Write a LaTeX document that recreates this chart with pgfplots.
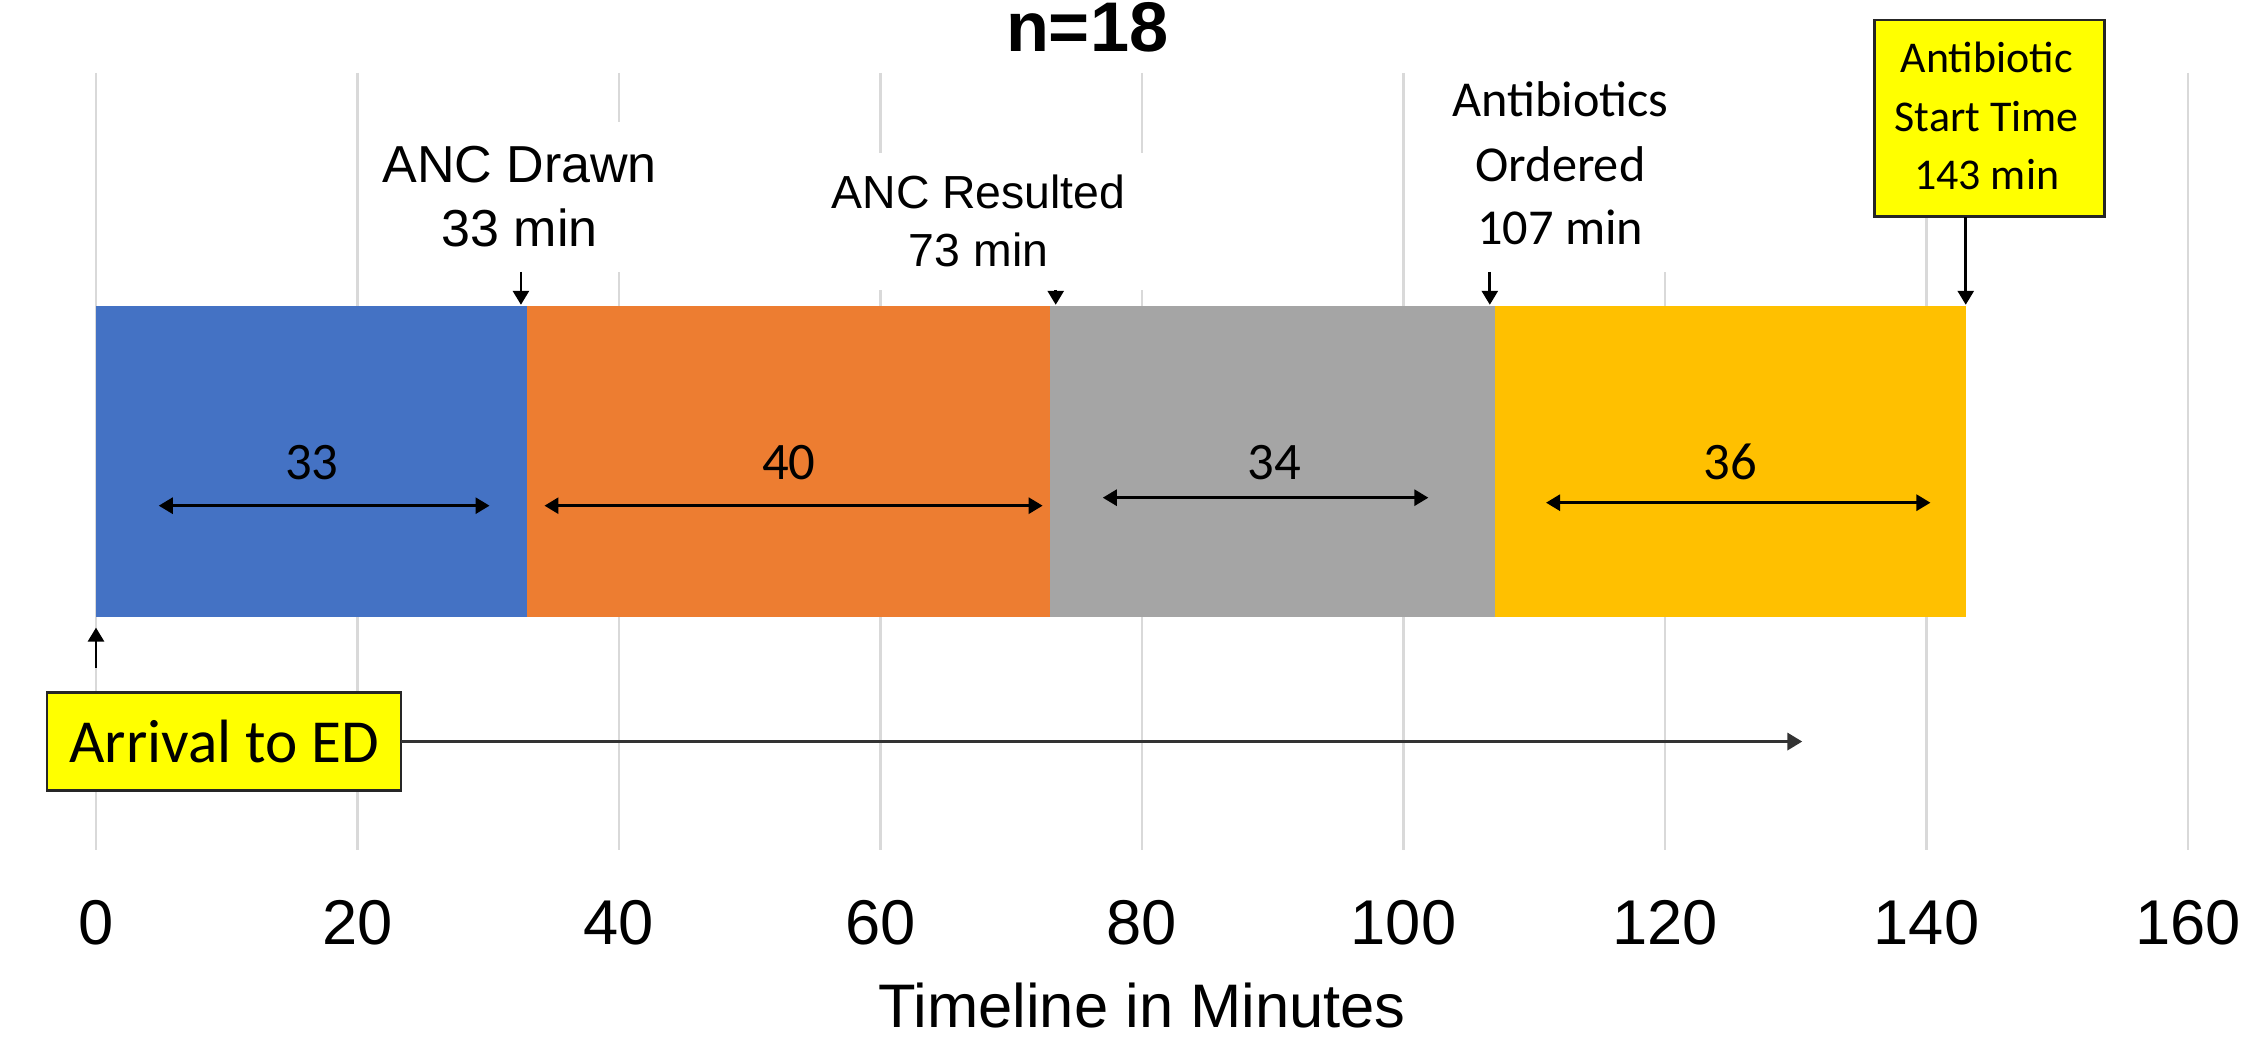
\documentclass[border=0pt]{standalone}
\usepackage{pgfplots}
\pgfplotsset{compat=1.18}
\usepackage{fontspec}
\setmainfont{Liberation Sans}
\newfontfamily\calibri{Carlito}
\usetikzlibrary{arrows.meta}
\definecolor{cBlue}{HTML}{4472C4}
\definecolor{cOrange}{HTML}{ED7D31}
\definecolor{cGray}{HTML}{A5A5A5}
\definecolor{cGold}{HTML}{FFC000}
\definecolor{gridgray}{HTML}{D9D9D9}
\definecolor{boxyellow}{HTML}{FFFF00}
\tikzset{tri/.style={line width=0.8pt, arrows={-Triangle[length=1.4mm,width=1.6mm]}},
         dtri/.style={line width=0.8pt, arrows={Triangle[length=1.4mm,width=1.6mm]-Triangle[length=1.4mm,width=1.6mm]}}}
\begin{document}
\begin{tikzpicture}
\begin{axis}[
  scale only axis, width=20.92cm, height=7.77cm,
  at={(0,0)}, anchor=south west,
  xmin=0, xmax=160, ymin=73, ymax=850, y dir=reverse,
  xbar stacked, bar width=311,
  xtick={0,20,...,160}, ytick=\empty,
  xmajorgrids, grid style={color=gridgray, line width=0.8pt},
  axis line style={draw=none}, major tick length=0pt,
  tick label style={font=\fontsize{18}{21}\selectfont},
  /pgf/number format/assume math mode=true,
  xticklabel style={inner sep=0pt, anchor=north, yshift=-5mm},
  xlabel={Timeline in Minutes},
  xlabel style={font=\fontsize{17.5}{21}\selectfont, at={(axis description cs:0.5,0)}, anchor=north, inner sep=0pt, yshift=-13.2mm},
  clip=false,
]
\addplot[fill=cBlue, draw=none] coordinates {(33,461.5)};
\addplot[fill=cOrange, draw=none] coordinates {(40,461.5)};
\addplot[fill=cGray, draw=none] coordinates {(34,461.5)};
\addplot[fill=cGold, draw=none] coordinates {(36,461.5)};
\end{axis}
% annotations in the axis' own units: x in minutes, y in the reversed vertical scale
\begin{scope}[x=0.13075cm, y=-0.01cm, yshift=8.5cm]
% white backgrounds of the text boxes (break the gridlines)
\fill[white] (21.7,122) rectangle (43.1,272);
\fill[white] (55.8,153) rectangle (80.6,290);
\fill[white] (102,60) rectangle (121.9,272);

% title
\node[anchor=base, font=\bfseries\fontsize{20}{24}\selectfont] at (75.8,52) {n=18};

% ANC Drawn
\node[anchor=base, font=\fontsize{14.8}{18}\selectfont] at (32.4,183) {ANC Drawn};
\node[anchor=base, font=\fontsize{14.8}{18}\selectfont] at (32.4,247) {33 min};
\draw[tri] (32.5,272) -- (32.5,305);

% ANC Resulted
\node[anchor=base, font=\fontsize{13.2}{16}\selectfont] at (67.5,209) {ANC Resulted};
\node[anchor=base, font=\fontsize{13.2}{16}\selectfont] at (67.5,267) {73 min};
\draw[tri] (73.4,290) -- (73.4,305);

% Antibiotics Ordered
\node[anchor=base, font=\calibri\fontsize{14.3}{18}\selectfont] at (112.0,117) {Antibiotics};
\node[anchor=base, font=\calibri\fontsize{14.3}{18}\selectfont] at (112.0,182) {Ordered};
\node[anchor=base, font=\calibri\fontsize{14.3}{18}\selectfont] at (112.0,245) {107 min};
\draw[tri] (106.6,272) -- (106.6,305);

% Antibiotic Start Time box
\draw[fill=boxyellow, draw=black!85, line width=0.8pt] (136.0,20) rectangle (153.6,217);
\node[anchor=base, font=\calibri\fontsize{12.5}{16}\selectfont] at (144.6,73) {Antibiotic};
\node[anchor=base, font=\calibri\fontsize{12.5}{16}\selectfont] at (144.6,132) {Start Time};
\node[anchor=base, font=\calibri\fontsize{12.5}{16}\selectfont] at (144.6,190) {143 min};
\draw[tri] (143,217) -- (143,305);

% segment durations
\node[anchor=base, font=\calibri\fontsize{15}{18}\selectfont] at (16.5,480) {33};
\node[anchor=base, font=\calibri\fontsize{15}{18}\selectfont] at (53.0,480) {40};
\node[anchor=base, font=\calibri\fontsize{15}{18}\selectfont] at (90.1,480) {34};
\node[anchor=base, font=\calibri\fontsize{15}{18}\selectfont] at (125.0,480) {36};
\draw[dtri] (4.8,506) -- (30.1,506);
\draw[dtri] (34.3,506) -- (72.4,506);
\draw[dtri] (77.0,498) -- (101.9,498);
\draw[dtri] (110.9,503) -- (140.3,503);

% Arrival to ED
\draw[tri] (0,668) -- (0,628);
\draw[fill=boxyellow, draw=black!85, line width=0.8pt] (-3.75,693) rectangle (23.33,791);
\node[anchor=base, font=\calibri\fontsize{17.4}{21}\selectfont] at (9.8,763) {Arrival to ED};
\draw[line width=1pt, color=black!80, arrows={-Triangle[length=1.5mm,width=1.7mm]}] (23.33,742) -- (130.5,742);
\end{scope}
\pgfresetboundingbox
\path[use as bounding box] (-0.96cm,-1.96cm) rectangle (21.54cm,8.50cm);
\end{tikzpicture}
\end{document}
